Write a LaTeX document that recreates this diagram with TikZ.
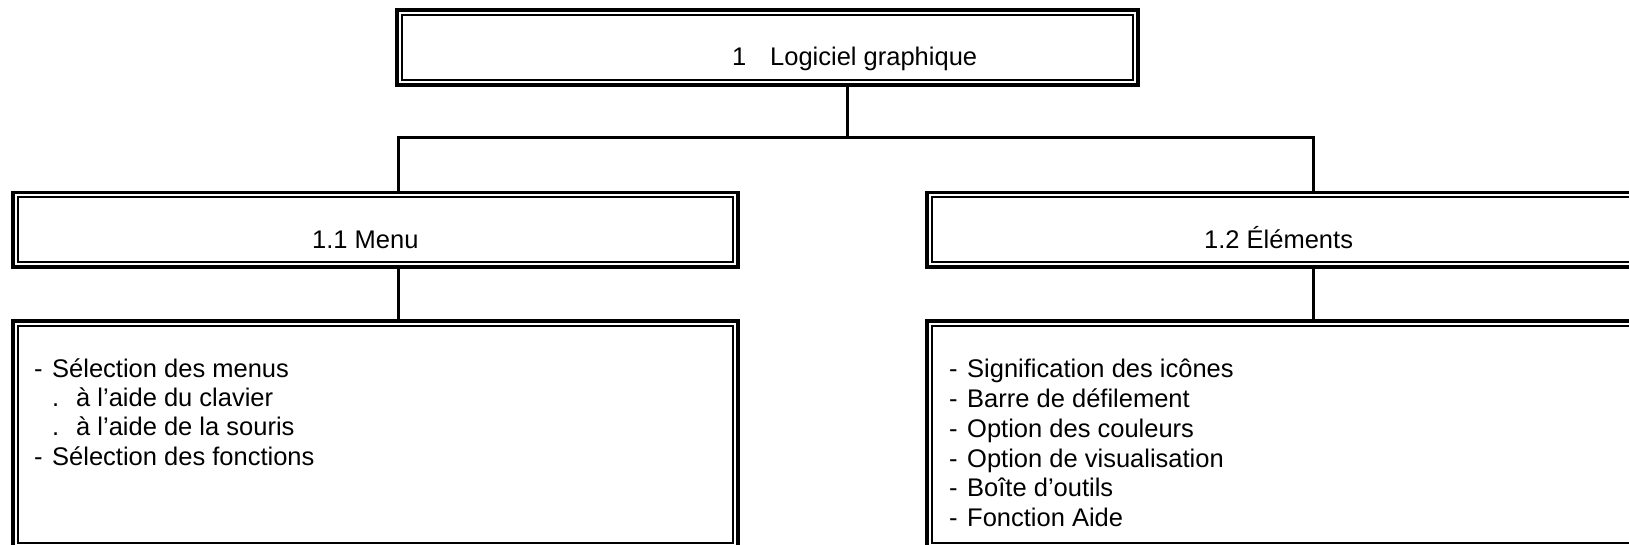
\documentclass[tikz,border=0pt]{standalone}
\usepackage{fontspec}
\setmainfont{Liberation Sans}
\begin{document}
\begin{tikzpicture}[x=1pt,y=-1pt,
  outerbox/.style={draw, line width=3.5pt, outer sep=0pt, inner sep=0pt, anchor=north west},
  innerline/.style={line width=2pt},
  conn/.style={line width=3pt},
  lbl/.style={anchor=base west, inner sep=0pt, font=\fontsize{25.5}{29.5}\selectfont},
]
\useasboundingbox (0,0) rectangle (1629,544);
\clip (0,0) rectangle (1629,544);

% boxes
\node[outerbox, minimum width=741pt, minimum height=75pt] (top) at (397,10) {};
\node[outerbox, minimum width=725pt, minimum height=74.7pt] (menu) at (13,192.3) {};
\node[outerbox, minimum width=800pt, minimum height=74.7pt] (elem) at (927,192.3) {};
\node[outerbox, minimum width=725pt, minimum height=226.5pt] (menuL) at (13,321) {};
\node[outerbox, minimum width=800pt, minimum height=226.5pt] (elemL) at (927,321) {};
\foreach \n in {top,menu,elem,menuL,elemL}
  \draw[innerline] ([shift={(4.6,4.6)}]\n.north west) rectangle ([shift={(-4.6,-4.6)}]\n.south east);

% connectors
\coordinate (j) at (847.5,137.2);
\coordinate (jl) at (398.3,137.2);
\coordinate (jr) at (1313,137.2);
\draw[conn] (top.south -| j) -- (j);
\draw[conn] (jl |- menu.north) -- (jl) -- (jr) -- (jr |- elem.north);
\draw[conn] (menu.south -| jl) -- (jl |- menuL.north);
\draw[conn] (elem.south -| jr) -- (jr |- elemL.north);

% titles
\node[lbl] (t0) at (732,65) {1\hspace{23.8pt}Logiciel graphique};
\node[lbl] (t1) at (312,248) {1.1 Menu};
\node[lbl] (t2) at (1204,248) {1.2 Éléments};

% left list
\node[lbl] (a1) at (34,377.3) {\makebox[18pt][l]{-}Sélection des menus};
\node[lbl] (a2) at (34,406.6) {\hspace{18pt}\makebox[24pt][l]{.}à l'aide du clavier};
\node[lbl] (a3) at (34,435.9) {\hspace{18pt}\makebox[24pt][l]{.}à l'aide de la souris};
\node[lbl] (a4) at (34,465.2) {\makebox[18pt][l]{-}Sélection des fonctions};

% right list
\node[lbl] (b1) at (949,377.3) {\makebox[18pt][l]{-}Signification des icônes};
\node[lbl] (b2) at (949,407.2) {\makebox[18pt][l]{-}Barre de défilement};
\node[lbl] (b3) at (949,437.1) {\makebox[18pt][l]{-}Option des couleurs};
\node[lbl] (b4) at (949,467.0) {\makebox[18pt][l]{-}Option de visualisation};
\node[lbl] (b5) at (949,496.9) {\makebox[18pt][l]{-}Boîte d'outils};
\node[lbl] (b6) at (949,526.8) {\makebox[18pt][l]{-}Fonction Aide};
\end{tikzpicture}
\end{document}
